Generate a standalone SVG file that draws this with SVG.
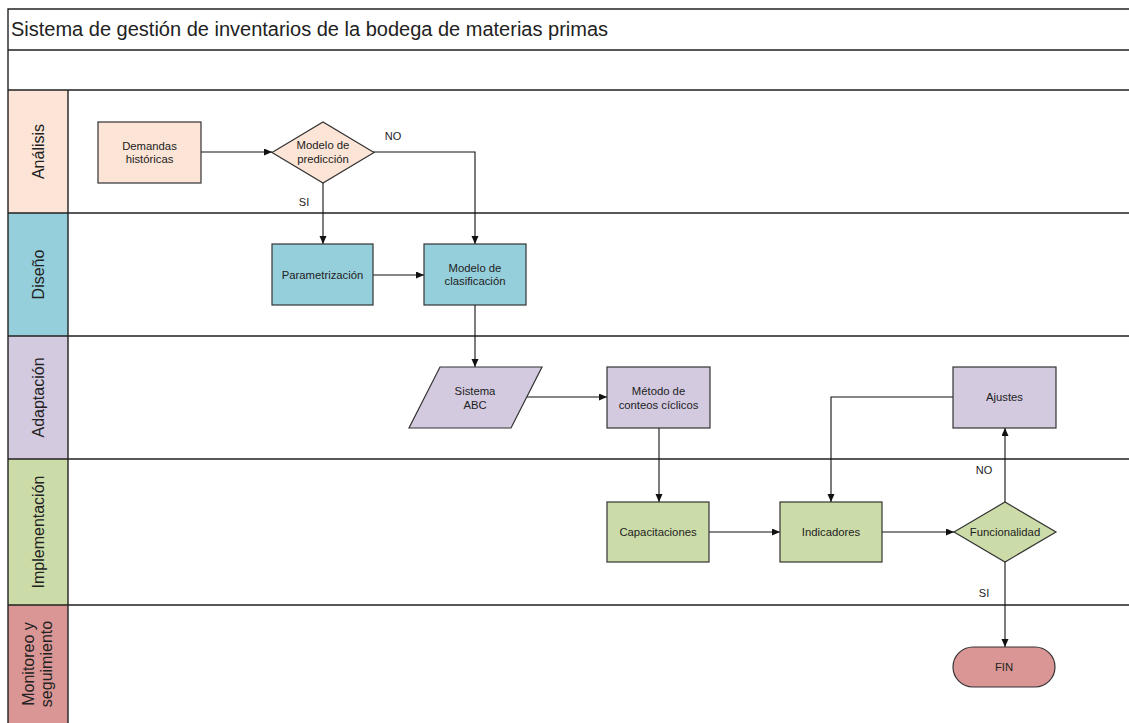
<svg xmlns="http://www.w3.org/2000/svg" width="1129" height="723" viewBox="0 0 1129 723">
<style>
text{font-family:"Liberation Sans",Arial,sans-serif;fill:#222}
.t{font-size:11.3px;text-anchor:middle}
.lbl{font-size:11px;text-anchor:middle}
.lane{font-size:16px;text-anchor:middle}
.frame{stroke:#222;stroke-width:1.4;fill:none}
.node{stroke:#333;stroke-width:1.2}
.c{stroke:#111;stroke-width:1.1;fill:none;marker-end:url(#ah)}
.an{fill:#FCE4D6}.di{fill:#96CFDC}.ad{fill:#D3CAE0}.im{fill:#CCDCA8}.mo{fill:#DA9694}
</style>
<defs>
<marker id="ah" markerUnits="userSpaceOnUse" markerWidth="9" markerHeight="8" refX="8" refY="3.5" orient="auto">
<path d="M0,0 L8,3.5 L0,7 z" fill="#111"/>
</marker>
</defs>
<rect width="1129" height="723" fill="#fff"/>
<g id="lanes">
<rect x="8" y="90" width="60" height="123" class="an"/>
<rect x="8" y="213" width="60" height="123" class="di"/>
<rect x="8" y="336" width="60" height="123" class="ad"/>
<rect x="8" y="459" width="60" height="146" class="im"/>
<rect x="8" y="605" width="60" height="118" class="mo"/>
<path class="frame" d="M8,723 V9 H1129 M8,50 H1129 M8,90 H1129 M8,213 H1129 M8,336 H1129 M8,459 H1129 M8,605 H1129 M68,90 V723"/>
<text x="11" y="36" style="font-size:20px">Sistema de gestión de inventarios de la bodega de materias primas</text>
<text class="lane" transform="translate(43.5,151.5) rotate(-90)">Análisis</text>
<text class="lane" transform="translate(43.5,274.5) rotate(-90)">Diseño</text>
<text class="lane" transform="translate(43.5,397.5) rotate(-90)">Adaptación</text>
<text class="lane" transform="translate(43.5,532) rotate(-90)">Implementación</text>
<text class="lane" transform="translate(33.5,664) rotate(-90)">Monitoreo y</text>
<text class="lane" transform="translate(52,664) rotate(-90)">seguimiento</text>
</g>
<g id="connectors">
<path class="c" d="M201,152 H272"/>
<path class="c" d="M323,183 V244"/>
<path class="c" d="M373,152 H475 V244"/>
<path class="c" d="M373,275 H424"/>
<path class="c" d="M475,305 V367"/>
<path class="c" d="M526,397 H607"/>
<path class="c" d="M659,428 V502"/>
<path class="c" d="M709,532 H780"/>
<path class="c" d="M882,532 H954"/>
<path class="c" d="M1005,502 V428"/>
<path class="c" d="M953,397 H831 V502"/>
<path class="c" d="M1005,562 V647"/>
<text class="lbl" x="393" y="140">NO</text>
<text class="lbl" x="304" y="206">SI</text>
<text class="lbl" x="984" y="474">NO</text>
<text class="lbl" x="984" y="597">SI</text>
</g>
<g id="demandas">
<rect x="98" y="122" width="103" height="61" class="node an"/>
<text class="t" x="149.5" y="149.5">Demandas</text>
<text class="t" x="149.5" y="162.5">históricas</text>
</g>
<g id="prediccion">
<path d="M272,152.5 L323,122 L374,152.5 L323,183 Z" class="node an"/>
<text class="t" x="323" y="149">Modelo de</text>
<text class="t" x="323" y="162.5">predicción</text>
</g>
<g id="parametrizacion">
<rect x="272" y="244" width="101" height="61" class="node di"/>
<text class="t" x="322.5" y="278.5">Parametrización</text>
</g>
<g id="clasificacion">
<rect x="424" y="244" width="102" height="61" class="node di"/>
<text class="t" x="475" y="272">Modelo de</text>
<text class="t" x="475" y="285">clasificación</text>
</g>
<g id="abc">
<path d="M440,367 L542,367 L511,428 L409,428 Z" class="node ad"/>
<text class="t" x="475" y="395">Sistema</text>
<text class="t" x="475" y="408.5">ABC</text>
</g>
<g id="metodo">
<rect x="607" y="367" width="103" height="61" class="node ad"/>
<text class="t" x="658.5" y="395">Método de</text>
<text class="t" x="658.5" y="408.5">conteos cíclicos</text>
</g>
<g id="ajustes">
<rect x="953" y="367" width="103" height="61" class="node ad"/>
<text class="t" x="1004.5" y="401">Ajustes</text>
</g>
<g id="capacitaciones">
<rect x="607" y="502" width="102" height="60" class="node im"/>
<text class="t" x="658" y="536">Capacitaciones</text>
</g>
<g id="indicadores">
<rect x="780" y="502" width="102" height="60" class="node im"/>
<text class="t" x="831" y="536">Indicadores</text>
</g>
<g id="funcionalidad">
<path d="M954,532 L1005,502 L1056,532 L1005,562 Z" class="node im"/>
<text class="t" x="1005" y="536">Funcionalidad</text>
</g>
<g id="fin">
<rect x="953" y="647" width="102" height="40" rx="20" ry="20" class="node mo"/>
<text class="t" x="1004" y="670.5">FIN</text>
</g>
</svg>
